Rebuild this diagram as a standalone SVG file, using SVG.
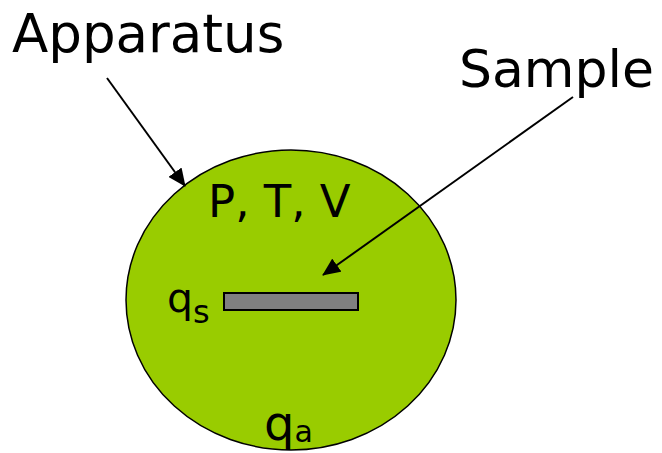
<svg xmlns="http://www.w3.org/2000/svg" width="662" height="453" viewBox="0 0 662 453">
<defs>
<marker id="ah" markerWidth="9" markerHeight="8" refX="8.5" refY="4" orient="auto" markerUnits="strokeWidth">
<path d="M0,0 L9,4 L0,8 Z" fill="#000"/>
</marker>
</defs>
<style>
text{font-family:"DejaVu Sans","Verdana",sans-serif;fill:#000}
.conn{stroke:#000;stroke-width:2;fill:none;marker-end:url(#ah)}
</style>
<rect width="662" height="453" fill="#fff"/>
<g id="apparatus">
<ellipse cx="291" cy="300" rx="165" ry="150" fill="#99CC00" stroke="#000" stroke-width="1.5"/>
<text x="208" y="217" font-size="45">P, T, V</text>
<text x="264" y="440" font-size="48">q<tspan font-size="30" dy="2">a</tspan></text>
</g>
<g id="sample">
<rect x="224" y="293" width="134" height="17" fill="#808080" stroke="#000" stroke-width="2"/>
<text x="167" y="312" font-size="41">q<tspan font-size="32" dy="11">s</tspan></text>
</g>
<g id="labels">
<text x="12" y="52" font-size="53">Apparatus</text>
<text x="459" y="87" font-size="52">Sample</text>
</g>
<g id="connectors">
<line class="conn" x1="107" y1="78" x2="185" y2="186"/>
<line class="conn" x1="573" y1="97" x2="323" y2="275"/>
</g>
</svg>
